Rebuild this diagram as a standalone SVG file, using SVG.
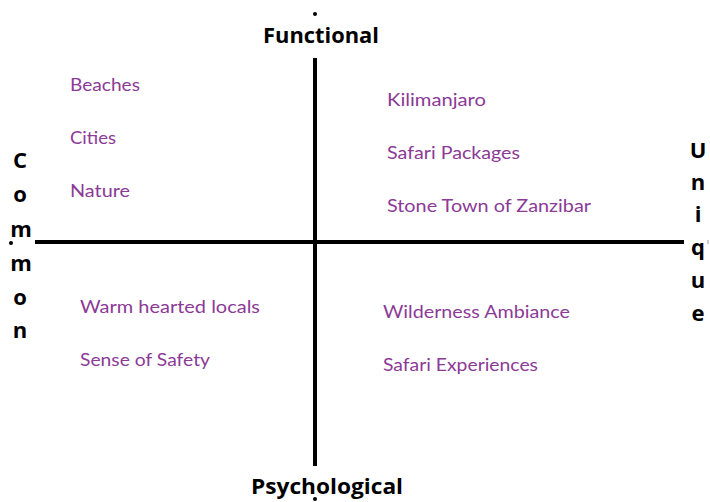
<svg xmlns="http://www.w3.org/2000/svg" width="710" height="502" viewBox="0 0 710 502">
<style>
.ax{stroke:#000;stroke-width:4;fill:none}
.lbl{font-family:Lato,"Open Sans","Liberation Sans",sans-serif;font-size:18px;fill:#8b3a96}
.ttl{font-family:"Open Sans",Lato,"Liberation Sans",sans-serif;font-weight:bold;font-size:21px;fill:#000;text-anchor:middle}
.let{font-family:"Open Sans",Lato,"Liberation Sans",sans-serif;font-weight:bold;font-size:22px;fill:#000;text-anchor:middle}
</style>
<rect width="710" height="502" fill="#fff"/>
<g id="connectors">
<line class="ax" x1="315" y1="58" x2="315" y2="466"/>
<line class="ax" x1="35" y1="242" x2="684" y2="242"/>
<circle cx="315" cy="14" r="2" fill="#000"/>
<circle cx="315" cy="499" r="2" fill="#000"/>
<circle cx="11" cy="243" r="2" fill="#000"/>
<rect x="707" y="240" width="2" height="4" fill="#ccc"/>
</g>
<g id="functional"><text class="ttl" x="321" y="43" textLength="116" lengthAdjust="spacingAndGlyphs">Functional</text></g>
<g id="psychological"><text class="ttl" x="327" y="494" textLength="152" lengthAdjust="spacingAndGlyphs">Psychological</text></g>
<g id="common">
<text class="let"><tspan x="20" y="168">C</tspan><tspan x="20" y="202">o</tspan><tspan x="21" y="237">m</tspan><tspan x="21" y="271">m</tspan><tspan x="20" y="305">o</tspan><tspan x="20" y="338">n</tspan></text>
</g>
<g id="unique">
<text class="let"><tspan x="698" y="158">U</tspan><tspan x="698" y="190">n</tspan><tspan x="698" y="222">i</tspan><tspan x="698" y="255">q</tspan><tspan x="698" y="288">u</tspan><tspan x="698" y="321">e</tspan></text>
</g>
<g id="q1">
<text class="lbl" x="70" y="91" textLength="70" lengthAdjust="spacingAndGlyphs">Beaches</text>
<text class="lbl" x="70" y="144" textLength="46" lengthAdjust="spacingAndGlyphs">Cities</text>
<text class="lbl" x="70" y="197" textLength="60" lengthAdjust="spacingAndGlyphs">Nature</text>
</g>
<g id="q2">
<text class="lbl" x="387" y="106" textLength="99" lengthAdjust="spacingAndGlyphs">Kilimanjaro</text>
<text class="lbl" x="387" y="159" textLength="133" lengthAdjust="spacingAndGlyphs">Safari Packages</text>
<text class="lbl" x="387" y="212" textLength="204" lengthAdjust="spacingAndGlyphs">Stone Town of Zanzibar</text>
</g>
<g id="q3">
<text class="lbl" x="80" y="313" textLength="180" lengthAdjust="spacingAndGlyphs">Warm hearted locals</text>
<text class="lbl" x="80" y="366" textLength="130" lengthAdjust="spacingAndGlyphs">Sense of Safety</text>
</g>
<g id="q4">
<text class="lbl" x="383" y="318" textLength="187" lengthAdjust="spacingAndGlyphs">Wilderness Ambiance</text>
<text class="lbl" x="383" y="371" textLength="155" lengthAdjust="spacingAndGlyphs">Safari Experiences</text>
</g>
</svg>
